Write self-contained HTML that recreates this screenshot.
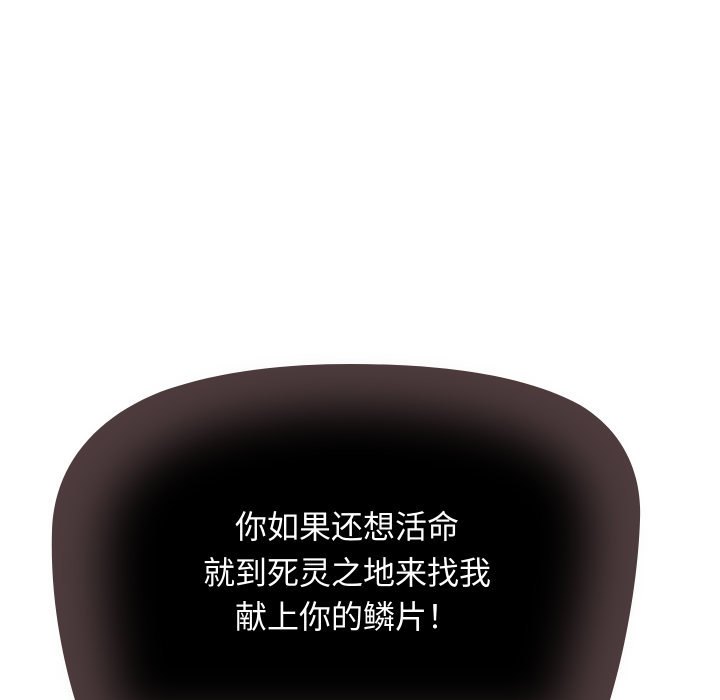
<!DOCTYPE html>
<html>
<head>
<meta charset="utf-8">
<style>
  html,body{margin:0;padding:0;background:#fff;}
  #panel{position:relative;width:720px;height:700px;overflow:hidden;background:#fff;}
  svg{position:absolute;left:0;top:0;}
  .line{position:absolute;left:-13px;width:720px;text-align:center;color:#fff;
    font-family:"Liberation Sans","Noto Sans CJK SC",sans-serif;font-size:32px;letter-spacing:0px;line-height:36px;}
</style>
</head>
<body>
<div id="panel">
  <svg width="720" height="700">
    <defs>
      <filter id="blur" x="-20%" y="-20%" width="140%" height="140%">
        <feGaussianBlur stdDeviation="24"/>
      </filter>
    </defs>
    <path d="M52,530 C54,470 90,420 160,392 C220,370 290,364 350,364 C430,364 520,372 580,405 C625,432 642,475 640,520 C638,580 625,650 610,700 L75,700 C60,650 50,590 52,530 Z" fill="#4e3c3d"/>
    <path d="M105,540 C108,485 150,445 220,425 C280,410 330,408 380,410 C460,414 530,428 565,462 C595,492 592,540 585,590 C578,640 565,680 555,720 L125,720 C112,670 103,600 105,540 Z" fill="#000" filter="url(#blur)"/>
  </svg>
  <div class="line" style="top:509px;">你如果还想活命</div>
  <div class="line" style="top:555px;">就到死灵之地来找我</div>
  <div class="line" style="top:599px;">献上你的鳞片！</div>
</div>
</body>
</html>
